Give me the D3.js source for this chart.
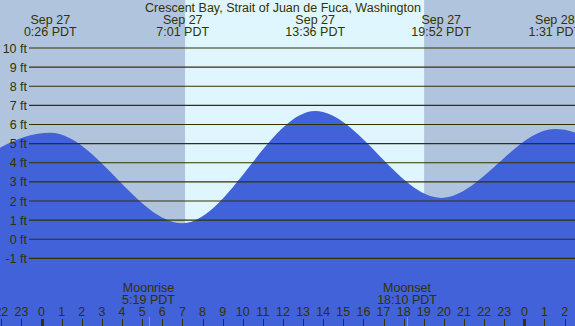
<!DOCTYPE html>
<html>
<head>
<meta charset="utf-8">
<script src="https://cdn.jsdelivr.net/npm/d3@7"></script>
<style>
  body { margin: 0; background: #fff; }
  svg text { font-family: "Liberation Sans", Arial, sans-serif; font-size: 12.5px; fill: #333300; }
</style>
</head>
<body>
<div id="chart"></div>
<script>
// chart size
const canvWidth = 575, canvHeight = 326;

const title = "Crescent Bay, Strait of Juan de Fuca, Washington";

// tide extremes (local time, PDT) and heights in ft
// first and last points are just outside the visible window
const tideTimes = ["2023-09-26 18:40", "2023-09-27 00:26", "2023-09-27 07:01", "2023-09-27 13:36",
                   "2023-09-27 19:52", "2023-09-28 01:31", "2023-09-28 08:00"];
const tideHeights = [2.3, 5.57, 0.84, 6.7, 2.16, 5.76, 0.5];
const labelled = [false, true, true, true, true, true, false];

// sunrise / sunset
const sunTimes = ["2023-09-27 07:08", "2023-09-27 19:01"];

// moon events
const moonNames = ["Moonrise", "Moonset"];
const moonTimes = ["2023-09-27 05:19", "2023-09-27 18:10"];

// axis
const feetTicks = [10, 9, 8, 7, 6, 5, 4, 3, 2, 1, 0, -1];
const windowTimes = ["2023-09-26 21:56", "2023-09-28 02:31"];

const parse = d3.utcParse("%Y-%m-%d %H:%M");
const fmtDay = d3.utcFormat("%b %-d");
const fmtTime = d3.utcFormat("%-H:%M");

const svg = d3.select("#chart").append("svg")
    .attr("width", canvWidth)
    .attr("height", canvHeight);

const x = d3.scaleUtc()
    .domain(windowTimes.map(parse))
    .range([0, canvWidth]);

const y = d3.scaleLinear()
    .domain([-1, 10])
    .range([258.4, 48]);

// night / day background
const sun = sunTimes.map(parse);
svg.append("rect")
    .attr("width", canvWidth).attr("height", canvHeight)
    .attr("fill", "#b0c4de");
svg.append("rect")
    .attr("x", x(sun[0])).attr("y", 0)
    .attr("width", x(sun[1]) - x(sun[0])).attr("height", canvHeight)
    .attr("fill", "#dff6fe");

// tide area
const tide = tideTimes.map((t, i) => ({t: parse(t), h: tideHeights[i], lab: labelled[i]}));
const area = d3.area()
    .x(d => x(d.t))
    .y0(canvHeight)
    .y1(d => y(d.h))
    .curve(d3.curveMonotoneX);
svg.append("path")
    .datum(tide)
    .attr("d", area)
    .attr("fill", "#4162d8");

// gridlines + labels
svg.selectAll(".grid")
    .data(feetTicks)
    .join("line")
      .attr("class", "grid")
      .attr("x1", 29).attr("x2", canvWidth)
      .attr("y1", d => y(d)).attr("y2", d => y(d))
      .attr("stroke", "#333300")
      .attr("stroke-width", 1.1);
svg.selectAll(".ylab")
    .data(feetTicks)
    .join("text")
      .attr("class", "ylab")
      .attr("x", 27)
      .attr("y", d => y(d) + 4.5)
      .attr("text-anchor", "end")
      .text(d => d + " ft");

// title
svg.append("text")
    .attr("x", 283).attr("y", 12)
    .attr("text-anchor", "middle")
    .text(title);

// extreme labels
const ext = svg.selectAll(".ext")
    .data(tide.filter(d => d.lab))
    .join("g")
      .attr("class", "ext")
      .attr("transform", d => `translate(${x(d.t)},0)`);
ext.append("text").attr("y", 24).attr("text-anchor", "middle").text(d => fmtDay(d.t));
ext.append("text").attr("y", 36).attr("text-anchor", "middle").text(d => fmtTime(d.t) + " PDT");

// hour ticks
const hours = d3.utcHour.range(d3.utcHour.offset(x.domain()[0], -1), d3.utcHour.offset(x.domain()[1], 1));
svg.selectAll(".tick")
    .data(hours)
    .join("line")
      .attr("class", "tick")
      .attr("x1", d => Math.round(x(d)) + 0.5).attr("x2", d => Math.round(x(d)) + 0.5)
      .attr("y1", 319).attr("y2", canvHeight)
      .attr("stroke", "#333300")
      .attr("stroke-width", d => d.getUTCHours() === 0 ? 3 : 1);
svg.selectAll(".hlab")
    .data(hours)
    .join("text")
      .attr("class", "hlab")
      .attr("x", d => x(d))
      .attr("y", 316)
      .attr("text-anchor", "middle")
      .text(d => d.getUTCHours());

// moon events
const moon = moonTimes.map((t, i) => ({t: parse(t), name: moonNames[i]}));
svg.selectAll(".moonline")
    .data(moon)
    .join("line")
      .attr("x1", d => Math.round(x(d.t)) + 0.5).attr("x2", d => Math.round(x(d.t)) + 0.5)
      .attr("y1", 317).attr("y2", canvHeight)
      .attr("stroke", "#8a8fb0")
      .attr("stroke-width", 1);
const mg = svg.selectAll(".moon")
    .data(moon)
    .join("g")
      .attr("transform", d => `translate(${x(d.t)},0)`);
mg.append("text").attr("y", 292).attr("text-anchor", "middle").text(d => d.name);
mg.append("text").attr("y", 304).attr("text-anchor", "middle").text(d => fmtTime(d.t) + " PDT");
</script>
</body>
</html>
